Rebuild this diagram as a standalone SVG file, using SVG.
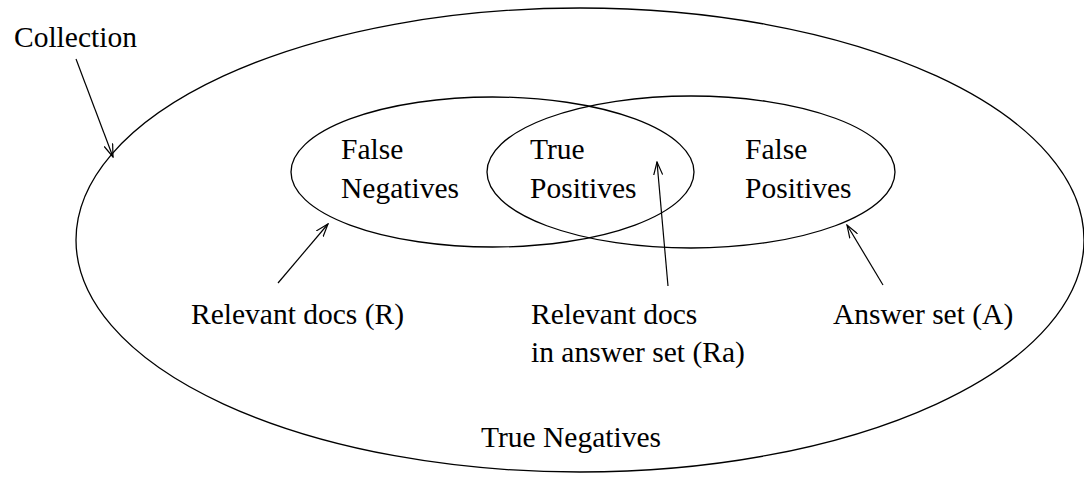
<svg xmlns="http://www.w3.org/2000/svg" width="1084" height="500" viewBox="0 0 1084 500">
<defs>
<style>
.shape{fill:none;stroke:#000;stroke-width:1.3}
.conn{fill:none;stroke:#000;stroke-width:1.2}
.t{font-family:'Liberation Serif','Times New Roman',Times,serif;font-size:29.5px;fill:#000}
</style>
<marker id="arr" viewBox="0 0 14 10" refX="13" refY="5" markerWidth="14" markerHeight="10" markerUnits="userSpaceOnUse" orient="auto">
<path d="M0,0.5 L13,5 L0,9.5" fill="none" stroke="#000" stroke-width="1.2"/>
</marker>
</defs>
<rect width="1084" height="500" fill="#fff"/>
<g id="collection" class="t" font-family="Liberation Serif, Times New Roman, serif">
<ellipse class="shape" cx="580" cy="240" rx="504" ry="232"/>
<text x="14" y="47">Collection</text>
<text x="481" y="447">True Negatives</text>
</g>
<g id="relevant" class="t" font-family="Liberation Serif, Times New Roman, serif">
<ellipse class="shape" cx="492.5" cy="172" rx="201.5" ry="75"/>
<text x="341" y="159">False</text>
<text x="341" y="198">Negatives</text>
<text x="191" y="324">Relevant docs (R)</text>
</g>
<g id="answer" class="t" font-family="Liberation Serif, Times New Roman, serif">
<ellipse class="shape" cx="691" cy="172" rx="204" ry="76"/>
<text x="745" y="159">False</text>
<text x="745" y="198">Positives</text>
<text x="833" y="324">Answer set (A)</text>
</g>
<g id="intersection" class="t" font-family="Liberation Serif, Times New Roman, serif">
<text x="530" y="159">True</text>
<text x="530" y="198">Positives</text>
<text x="531" y="324">Relevant docs</text>
<text x="531" y="362">in answer set (Ra)</text>
</g>
<g id="connectors">
<line class="conn" x1="76" y1="59" x2="113" y2="157" marker-end="url(#arr)"/>
<line class="conn" x1="278" y1="283" x2="328" y2="224" marker-end="url(#arr)"/>
<line class="conn" x1="668" y1="286" x2="657" y2="162" marker-end="url(#arr)"/>
<line class="conn" x1="883" y1="285" x2="847" y2="225" marker-end="url(#arr)"/>
</g>
</svg>
